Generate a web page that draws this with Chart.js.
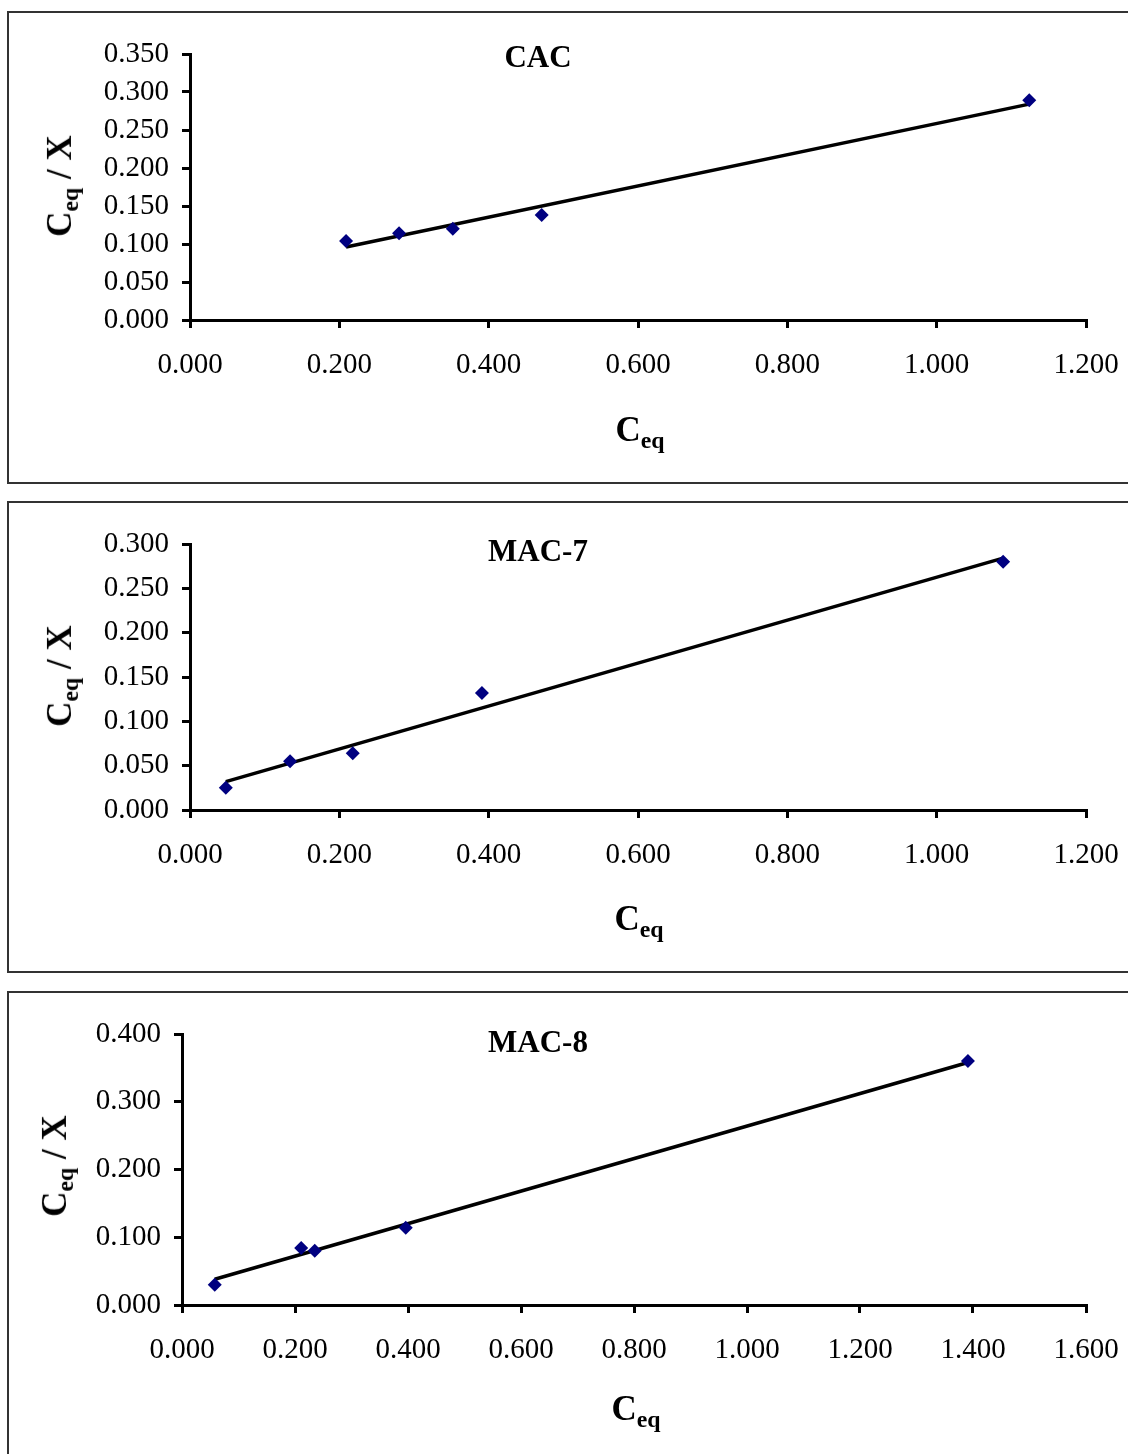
<!DOCTYPE html>
<html>
<head>
<meta charset="utf-8">
<script src="https://cdn.jsdelivr.net/npm/chart.js@4.4.0/dist/chart.umd.min.js"></script>
<style>
  body { margin: 0; background: #fff; }
  #page { position: relative; width: 1128px; height: 1454px; overflow: hidden; background: #fff; }
  .box { position: absolute; border: 2px solid #333; box-sizing: border-box; }
  canvas { position: absolute; left: 0; }
  .lbl { position: absolute; font-family: "Liberation Serif", "Times New Roman", serif; font-weight: bold; color: #000; white-space: nowrap; transform: translate(-50%, -50%); }
  .ttl { font-size: 31px; }
  .ax { font-size: 35px; }
  .ax sub { font-size: 0.68em; vertical-align: -0.3em; }
  .rot { transform: translate(-50%, -50%) rotate(-90deg); }
</style>
</head>
<body>
<div id="page">
  <div class="box" style="left:7px; top:11px; width:1130px; height:473px;"></div>
  <div class="box" style="left:7px; top:501px; width:1130px; height:472px;"></div>
  <div class="box" style="left:7px; top:991px; width:1130px; height:480px;"></div>

  <canvas id="c1" width="1128" height="490" style="top:0px"></canvas>
  <canvas id="c2" width="1128" height="490" style="top:490px"></canvas>
  <canvas id="c3" width="1128" height="474" style="top:980px"></canvas>

  <div class="lbl ttl" style="left:538px; top:57px;">CAC</div>
  <div class="lbl ttl" style="left:538px; top:551px;">MAC-7</div>
  <div class="lbl ttl" style="left:538px; top:1042px;">MAC-8</div>

  <div class="lbl ax" style="left:640px; top:432px;">C<sub>eq</sub></div>
  <div class="lbl ax" style="left:639px; top:921px;">C<sub>eq</sub></div>
  <div class="lbl ax" style="left:636px; top:1411px;">C<sub>eq</sub></div>

  <div class="lbl ax rot" style="left:62px; top:186px;">C<sub>eq</sub> / X</div>
  <div class="lbl ax rot" style="left:62px; top:676px;">C<sub>eq</sub> / X</div>
  <div class="lbl ax rot" style="left:57px; top:1166px;">C<sub>eq</sub> / X</div>
</div>
<script>
// CAC
var cacX = [0.209, 0.280, 0.352, 0.471, 1.124];
var cacY = [0.104, 0.114, 0.120, 0.138, 0.289];
var cacTrendX = [0.209, 1.124];
var cacTrendY = [0.096, 0.284];

// MAC-7
var mac7X = [0.048, 0.134, 0.218, 0.391, 1.089];
var mac7Y = [0.025, 0.055, 0.064, 0.132, 0.280];
var mac7TrendX = [0.048, 1.089];
var mac7TrendY = [0.032, 0.284];

// MAC-8
var mac8X = [0.058, 0.211, 0.235, 0.396, 1.391];
var mac8Y = [0.030, 0.084, 0.080, 0.114, 0.360];
var mac8TrendX = [0.058, 1.391];
var mac8TrendY = [0.038, 0.358];

function pts(xs, ys) {
	var out = [];
	for (var i = 0; i < xs.length; i++) {
		out.push({ x: xs[i], y: ys[i] });
	}
	return out;
}

var tickFont = { family: "'Liberation Serif', 'Times New Roman', serif", size: 29 };

function makeChart(id, xs, ys, tx, ty, xMax, xStep, yMax, yStep, yAxisWidth, padBottom) {
	var ctx = document.getElementById(id);
	return new Chart(ctx, {
		type: "scatter",
		data: {
			datasets: [
				{
					data: pts(xs, ys),
					backgroundColor: "#000080",
					borderColor: "#000080",
					pointStyle: "rectRot",
					pointRadius: 7,
					borderWidth: 0,
					showLine: false
				},
				{
					data: pts(tx, ty),
					type: "line",
					borderColor: "#000",
					borderWidth: 3.5,
					pointRadius: 0,
					fill: false,
					tension: 0
				}
			]
		},
		options: {
			responsive: false,
			animation: false,
			events: [],
			layout: { padding: { top: 54, right: 42, bottom: padBottom, left: 0 } },
			plugins: { legend: { display: false }, tooltip: { enabled: false } },
			scales: {
				x: {
					type: "linear",
					min: 0, max: xMax,
					afterFit: function(s) { s.height = 60; s.paddingRight = 0; s.paddingLeft = 0; },
					ticks: {
						stepSize: xStep, color: "#000", font: tickFont, padding: 20, maxRotation: 0,
						callback: function(v) { return v.toFixed(3); }
					},
					grid: { drawOnChartArea: false, drawTicks: true, tickLength: 8, color: "#000", lineWidth: 3 },
					border: { display: true, color: "#000", width: 3 }
				},
				y: {
					type: "linear",
					min: 0, max: yMax,
					afterFit: function(s) { s.width = yAxisWidth; },
					ticks: {
						stepSize: yStep, color: "#000", font: tickFont, padding: 13,
						callback: function(v) { return v.toFixed(3); }
					},
					grid: { drawOnChartArea: false, drawTicks: true, tickLength: 8, color: "#000", lineWidth: 3 },
					border: { display: true, color: "#000", width: 3 }
				}
			}
		}
	});
}

makeChart("c1", cacX, cacY, cacTrendX, cacTrendY, 1.2, 0.2, 0.35, 0.05, 190, 110);
makeChart("c2", mac7X, mac7Y, mac7TrendX, mac7TrendY, 1.2, 0.2, 0.30, 0.05, 190, 110);
makeChart("c3", mac8X, mac8Y, mac8TrendX, mac8TrendY, 1.6, 0.2, 0.40, 0.1, 182, 89);
</script>
</body>
</html>
